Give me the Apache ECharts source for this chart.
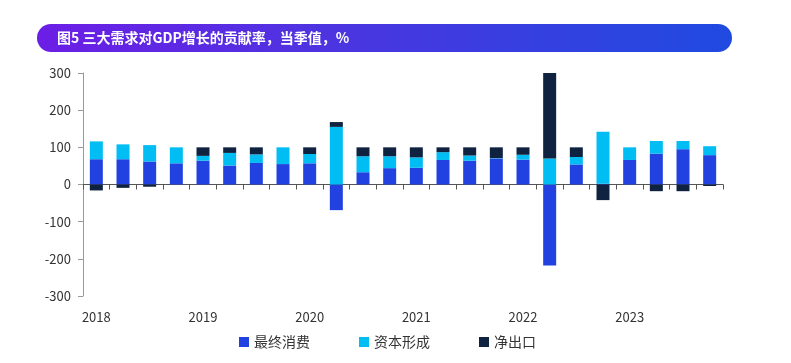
<!DOCTYPE html>
<html>
<head>
<meta charset="utf-8">
<script src="https://cdn.jsdelivr.net/npm/echarts@6/dist/echarts.min.js"></script>
<style>html,body{margin:0;padding:0;background:#fff;}#c{width:791px;height:363px;}</style>
</head>
<body>
<div id="c"></div>
<script>
const titleText = '图5 三大需求对GDP增长的贡献率，当季值，%';
const categories = ['2018Q1','2018Q2','2018Q3','2018Q4','2019Q1','2019Q2','2019Q3','2019Q4','2020Q1','2020Q2','2020Q3','2020Q4','2021Q1','2021Q2','2021Q3','2021Q4','2022Q1','2022Q2','2022Q3','2022Q4','2023Q1','2023Q2','2023Q3','2023Q4'];
const seriesNames = ['最终消费','资本形成','净出口'];
const consumption = [68,68,62,57, 64,51,58,55, 57,-69,33,44, 45,66,64,70, 67,-218,54,2, 66,83,95,79];
const capital = [48,40,44,43, 13,34,23,45, 25,155,43,32, 28,21,14,1, 13,70,20,140, 34,34,22,24];
const netExports = [-16,-9,-6,0, 23,15,19,0, 18,13,24,24, 27,13,22,29, 20,230,26,-42, 0,-18,-18,-4];
const yTicks = {min:-300, max:300, interval:100};

const FONT = '"Noto Sans CJK SC","Noto Sans",sans-serif';
const chart = echarts.init(document.getElementById('c'), null, {renderer:'canvas'});
const colors = ['#2142e0','#00bdf4','#0f2340'];
chart.setOption({
  animation:false,
  textStyle:{fontFamily:FONT},
  graphic:[
    {type:'rect', shape:{x:37,y:24,width:695,height:28,r:14},
     style:{fill:new echarts.graphic.LinearGradient(0,0,1,0,[{offset:0,color:'#6c1ee6'},{offset:0.45,color:'#4a36e0'},{offset:1,color:'#1f4ae0'}])}},
    {type:'text', x:57, y:38, style:{text:titleText, fill:'#fff', font:'bold 14px '+FONT, verticalAlign:'middle'}}
  ],
  legend:{
    left:234, top:330, itemWidth:10, itemHeight:10, itemGap:49, icon:'rect',
    textStyle:{fontSize:14,color:'#333',fontFamily:FONT},
    data:seriesNames
  },
  grid:{left:83,right:68,top:73,bottom:67},
  xAxis:[
    {type:'category', data:categories, position:'bottom',
     axisLine:{show:false,onZero:false}, axisTick:{show:false},
     axisLabel:{interval:3, margin:15, fontSize:13, color:'#333', fontFamily:FONT, formatter:v=>v.slice(0,4)}},
    {type:'category', data:categories, position:'bottom',
     axisLine:{show:true,onZero:true,lineStyle:{color:'#555',width:1}},
     axisTick:{show:true,interval:0,length:5,lineStyle:{color:'#555'}},
     axisLabel:{show:false}}
  ],
  yAxis:{type:'value', min:yTicks.min, max:yTicks.max, interval:yTicks.interval,
    axisLine:{show:true,lineStyle:{color:'#999'}},
    axisTick:{show:true,length:5,lineStyle:{color:'#999'}},
    splitLine:{show:false},
    axisLabel:{margin:12,fontSize:13,color:'#333',fontFamily:FONT}},
  series:[
    {name:seriesNames[0], type:'bar', stack:'t', data:consumption, barWidth:13, itemStyle:{color:colors[0]}},
    {name:seriesNames[1], type:'bar', stack:'t', data:capital, barWidth:13, itemStyle:{color:colors[1]}},
    {name:seriesNames[2], type:'bar', stack:'t', data:netExports, barWidth:13, itemStyle:{color:colors[2]}}
  ]
});
</script>
</body>
</html>
